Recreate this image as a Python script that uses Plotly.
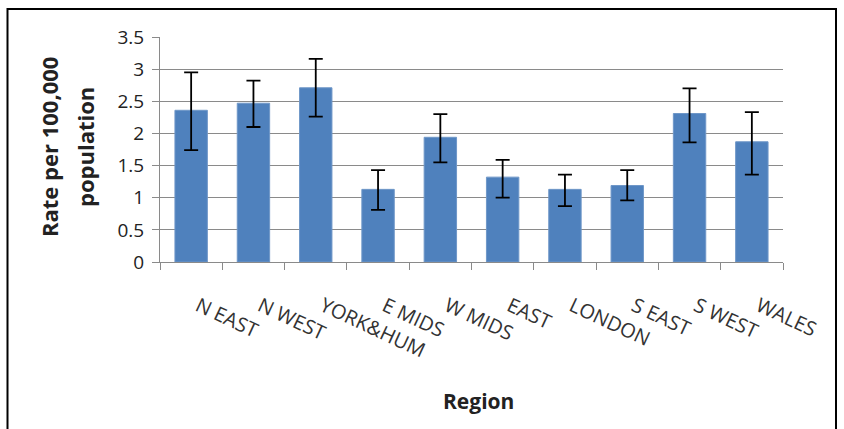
import plotly.graph_objects as go

regions = ["N EAST", "N WEST", "YORK&HUM", "E MIDS", "W MIDS", "EAST", "LONDON", "S EAST", "S WEST", "WALES"]
rate = [2.36, 2.47, 2.71, 1.13, 1.94, 1.32, 1.13, 1.19, 2.31, 1.87]
ci_upper = [2.95, 2.82, 3.16, 1.43, 2.30, 1.59, 1.36, 1.43, 2.70, 2.33]
ci_lower = [1.74, 2.10, 2.26, 0.81, 1.55, 1.00, 0.87, 0.96, 1.86, 1.36]
y_ticks = [0, 0.5, 1, 1.5, 2, 2.5, 3, 3.5]

err_plus = [u - r for u, r in zip(ci_upper, rate)]
err_minus = [r - l for r, l in zip(rate, ci_lower)]

fig = go.Figure(go.Bar(
    x=regions, y=rate,
    marker=dict(color="#4F81BD", line=dict(color="#6f97c8", width=1)),
    width=0.52,
    error_y=dict(type="data", symmetric=False, array=err_plus, arrayminus=err_minus,
                 color="#000000", thickness=1.8, width=7),
))

W, H = 844, 429
ml, mr, mt, mb = 160, 61, 37, 167
pw, ph = W - ml - mr, H - mt - mb

def px_x(p):
    return (p - ml) / pw

def px_y(p):
    return (H - mb - p) / ph

grey = "#8a8a8a"
fig.update_layout(
    width=W, height=H,
    margin=dict(l=ml, r=mr, t=mt, b=mb, pad=0),
    paper_bgcolor="white", plot_bgcolor="white",
    showlegend=False,
    font=dict(family="Open Sans", color="#222222"),
    xaxis=dict(
        type="category", tickangle=25, tickson="boundaries",
        ticks="outside", ticklen=7, tickcolor=grey, tickwidth=1,
        showline=True, linecolor=grey, linewidth=1,
        showgrid=False,
        tickfont=dict(family="Open Sans", size=20, color="#333333"),
        ticklabelstandoff=24, ticklabelshift=7,
    ),
    yaxis=dict(
        range=[0, 3.5], tickvals=y_ticks,
        ticks="outside", ticklen=7, tickcolor=grey, tickwidth=1,
        showline=True, linecolor=grey, linewidth=1,
        showgrid=True, gridcolor=grey, gridwidth=1,
        zeroline=False,
        tickfont=dict(family="Open Sans", size=19, color="#222222"),
        ticklabelstandoff=4,
    ),
    shapes=[dict(type="rect", xref="paper", yref="paper",
                 x0=px_x(7.5), x1=px_x(836), y0=px_y(445), y1=px_y(9),
                 line=dict(color="black", width=2), fillcolor="rgba(0,0,0,0)", layer="above")],
    annotations=[
        dict(text="<b>Rate per 100,000</b>", xref="paper", yref="paper",
             x=px_x(49), y=px_y(147), textangle=-90, showarrow=False,
             xanchor="center", yanchor="middle",
             font=dict(family="Open Sans", size=22, color="#222222")),
        dict(text="<b>population</b>", xref="paper", yref="paper",
             x=px_x(85), y=px_y(147), textangle=-90, showarrow=False,
             xanchor="center", yanchor="middle",
             font=dict(family="Open Sans", size=22, color="#222222")),
        dict(text="<b>Region</b>", xref="paper", yref="paper",
             x=px_x(478), y=px_y(401), showarrow=False,
             xanchor="center", yanchor="middle",
             font=dict(family="Open Sans", size=21, color="#222222")),
    ],
)

fig.write_html("out.html", config={"displayModeBar": False},
               post_script="document.body.style.margin='0';document.body.style.overflow='hidden';")
